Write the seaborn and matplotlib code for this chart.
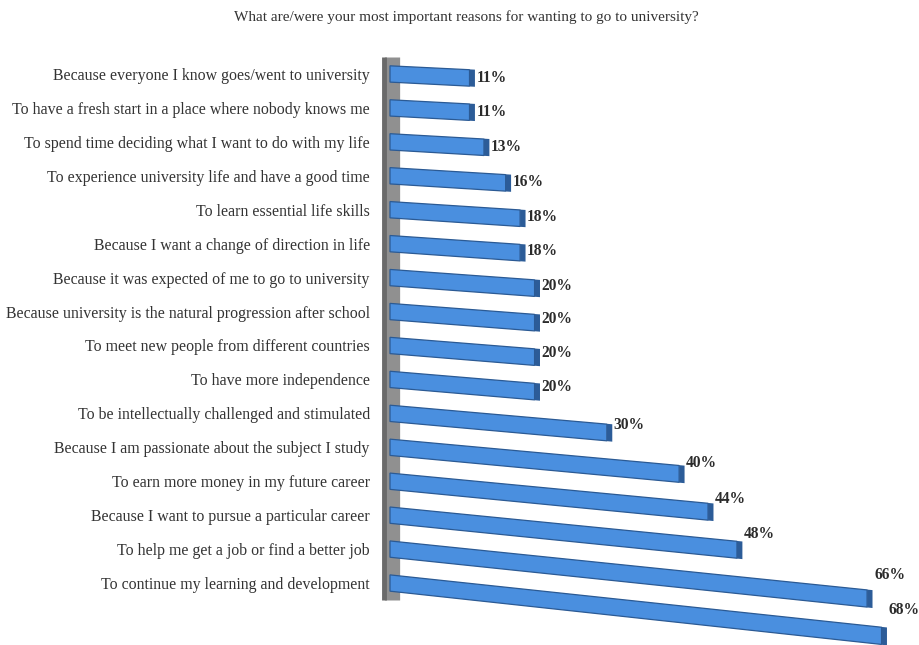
import numpy as np
import matplotlib
matplotlib.use("Agg")
import matplotlib.pyplot as plt
import matplotlib.transforms as mtransforms
import seaborn as sns

title = "What are/were your most important reasons for wanting to go to university?"
categories = [
    "Because everyone I know goes/went to university",
    "To have a fresh start in a place where nobody knows me",
    "To spend time deciding what I want to do with my life",
    "To experience university life and have a good time",
    "To learn essential life skills",
    "Because I want a change of direction in life",
    "Because it was expected of me to go to university",
    "Because university is the natural progression after school",
    "To meet new people from different countries",
    "To have more independence",
    "To be intellectually challenged and stimulated",
    "Because I am passionate about the subject I study",
    "To earn more money in my future career",
    "Because I want to pursue a particular career",
    "To help me get a job or find a better job",
    "To continue my learning and development",
]
values = [11, 11, 13, 16, 18, 18, 20, 20, 20, 20, 30, 40, 44, 48, 66, 68]
value_labels = [f"{v}%" for v in values]

W, H, DPI = 920, 645, 100


class Persp(mtransforms.Transform):
    """Display-space perspective-like shear (drop grows with distance)."""
    input_dims = 2
    output_dims = 2
    is_separable = False
    has_inverse = False

    def __init__(self, x0, y_ref, a, c, H, dx=0.0):
        super().__init__()
        self.x0, self.y_ref, self.a, self.c, self.H, self.dx = x0, y_ref, a, c, H, dx

    def transform_non_affine(self, values):
        v = np.asarray(values, dtype=float).reshape(-1, 2)
        x = v[:, 0]
        yt = self.H - v[:, 1]
        d = x - self.x0
        yt2 = yt + (self.a + self.c * (yt - self.y_ref)) * d
        return np.column_stack([x + self.dx, self.H - yt2])


sns.set_theme(style="white")
plt.rcParams["font.family"] = ["Liberation Serif", "DejaVu Serif"]

fig = plt.figure(figsize=(W / DPI, H / DPI), dpi=DPI)
ax = fig.add_axes([390 / W, 1 - 600 / H, 506 / W, 543 / H])

sns.barplot(x=values, y=categories, orient="h", color="#4a8fdf", width=0.48,
            saturation=1, ax=ax, edgecolor="#2b5a94", linewidth=0.9)
# dark end faces of the 3D bars
ax.barh(np.arange(len(values)), [0.75] * len(values), left=values,
        height=0.50, color="#2c5c98", linewidth=0)

ax.set_xlim(0, 70)
ax.set_ylim(len(values) - 0.5, -0.5)

x0 = ax.transData.transform((0, 0))[0]
bar_tr = ax.transData + Persp(x0, 75, 0.05, 1.13e-4, H)
for p in list(ax.patches):
    p.set_transform(bar_tr)
    p.set_clip_on(False)
    p.set_zorder(3)

lab_tr = ax.transData + Persp(x0, 0, 0.055, 0.0, H, dx=7)
for i, (v, t) in enumerate(zip(values, value_labels)):
    ax.text(v, i, t, transform=lab_tr, ha="left", va="center",
            fontsize=11.2, fontweight="bold", color="#2b2b2b", clip_on=False,
            zorder=4)

# axis styling: grey "wall" on the left
for s in ["top", "right", "bottom"]:
    ax.spines[s].set_visible(False)
ax.spines["left"].set_color("#909090")
ax.spines["left"].set_linewidth(11)
ax.spines["left"].set_capstyle("butt")
ax.spines["left"].set_position(("outward", -1.5))
ax.spines["left"].set_zorder(2)
shade = mtransforms.offset_copy(ax.transAxes, fig=fig, x=-4.5, y=0, units="points")
ax.plot([0, 0], [0, 1], transform=shade, color="#6a6a6a", lw=3.5,
        solid_capstyle="butt", zorder=2.2, clip_on=False)

ax.set_xticks([])
ax.set_xlabel("")
ax.set_ylabel("")
ax.tick_params(axis="y", length=0, pad=16, labelsize=11.4, labelcolor="#333333")

fig.text(466 / W, 1 - 17 / H, title, ha="center", va="center",
         fontsize=11, color="#333333")

fig.savefig("out.png", dpi=DPI)
